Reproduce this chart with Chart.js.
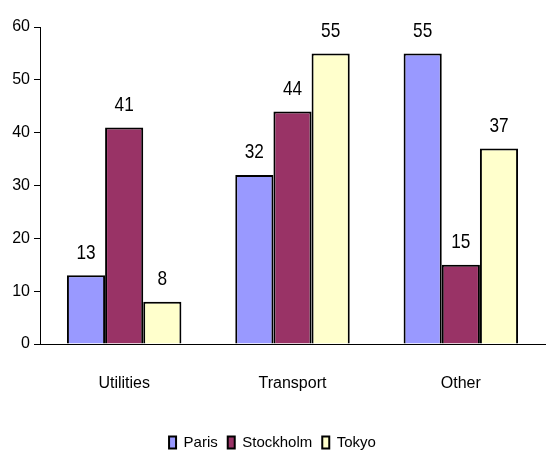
<!DOCTYPE html>
<html>
<head>
<meta charset="utf-8">
<script src="https://cdn.jsdelivr.net/npm/chart.js@4"></script>
<style>
html,body{margin:0;padding:0;background:#fff;}
#wrap{width:546px;height:460px;position:relative;}
</style>
</head>
<body>
<div id="wrap"><canvas id="c" width="546" height="460"></canvas></div>
<script>
const categories = ['Utilities', 'Transport', 'Other'];
const parisValues = [13, 32, 55];
const stockholmValues = [41, 44, 15];
const tokyoValues = [8, 55, 37];
const yTicks = [0, 10, 20, 30, 40, 50, 60];

const FONT = "'Liberation Sans', Arial, sans-serif";

const valueLabels = {
  id: 'valueLabels',
  afterDatasetsDraw(chart) {
    const ctx = chart.ctx;
    chart.data.datasets.forEach((ds, i) => {
      const meta = chart.getDatasetMeta(i);
      meta.data.forEach((bar, j) => {
        ctx.save();
        ctx.translate(bar.x, bar.y - 12);
        ctx.scale(0.82, 1);
        ctx.font = '21px ' + FONT;
        ctx.fillStyle = '#000';
        ctx.textAlign = 'center';
        ctx.textBaseline = 'bottom';
        ctx.fillText(String(ds.data[j]), 0, 0);
        ctx.restore();
      });
    });
  }
};

new Chart(document.getElementById('c'), {
  type: 'bar',
  data: {
    labels: categories,
    datasets: [
      { label: 'Paris', data: parisValues, backgroundColor: '#9999FF', borderColor: '#000', borderWidth: 2 },
      { label: 'Stockholm', data: stockholmValues, backgroundColor: '#993366', borderColor: '#000', borderWidth: 2 },
      { label: 'Tokyo', data: tokyoValues, backgroundColor: '#FFFFCC', borderColor: '#000', borderWidth: 2 }
    ]
  },
  options: {
    responsive: false,
    animation: false,
    devicePixelRatio: 1,
    layout: { padding: { top: 27, right: 1, left: 0, bottom: 0 } },
    datasets: { bar: { barPercentage: 1.0, categoryPercentage: 0.68 } },
    plugins: {
      legend: {
        position: 'bottom',
        labels: {
          font: { family: FONT, size: 15 },
          color: '#000',
          boxWidth: 7,
          boxHeight: 12,
          padding: 10,
          useBorderRadius: false
        }
      },
      tooltip: { enabled: false }
    },
    scales: {
      x: {
        grid: { display: false },
        border: { display: true, color: '#000', width: 1 },
        ticks: { font: { family: FONT, size: 16 }, color: '#000', padding: 22 },
        afterFit(s) { s.height = 81; }
      },
      y: {
        min: 0, max: 60,
        afterBuildTicks(s) { s.ticks = yTicks.map(v => ({ value: v })); },
        grid: { drawOnChartArea: false, drawTicks: true, tickLength: 6, color: '#000' },
        border: { display: true, color: '#000', width: 1 },
        ticks: { font: { family: FONT, size: 16 }, color: '#000', padding: 4 },
        afterFit(s) { s.width = 40; }
      }
    }
  },
  plugins: [valueLabels]
});
</script>
</body>
</html>
